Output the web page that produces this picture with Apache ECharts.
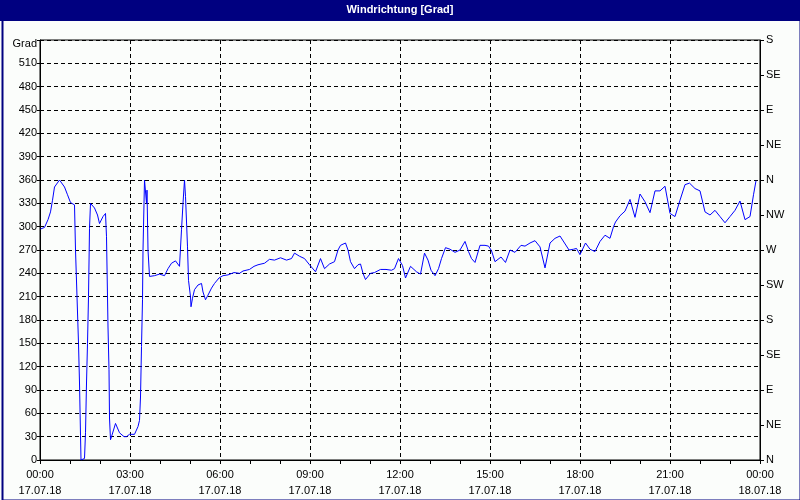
<!DOCTYPE html>
<html>
<head>
<meta charset="utf-8">
<script src="https://cdn.jsdelivr.net/npm/echarts@6/dist/echarts.min.js"></script>
<style>
html,body{margin:0;padding:0;background:#fbfdfb;}
#c{width:800px;height:500px;}
</style>
</head>
<body>
<div id="c"></div>
<script>
// Minutes since 17.07.18 00:00
const minutes = [1,9,16,21,25,29,39,49,55,61,69,71,74,77,79,81,82,89,91,93,95,97,99,101,109,115,119,126,131,133,136,138,139,141,144,151,159,168,173,179,189,196,199,201,203,205,206,209,211,213,214,216,219,223,229,239,249,256,263,271,279,283,286,289,291,295,297,301,302,305,309,316,323,326,331,336,343,349,358,366,376,388,399,406,419,428,436,449,459,469,481,493,503,509,519,529,539,551,561,569,579,589,596,601,611,616,621,629,636,641,646,651,661,669,681,692,703,709,717,721,725,731,741,753,761,769,776,782,790,797,803,811,820,830,840,850,857,863,870,880,890,897,903,910,922,931,940,950,962,970,980,990,1000,1010,1020,1030,1040,1049,1058,1067,1073,1080,1091,1100,1110,1120,1130,1140,1147,1151,1160,1170,1180,1190,1200,1210,1220,1230,1240,1250,1260,1270,1280,1290,1299,1310,1320,1330,1340,1350,1360,1370,1380,1390,1400,1410,1420,1427,1432];
// Wind direction in degrees
const degrees = [297,299,309,319,334,351,360,351,341,331,328,270,210,150,99,32,0,2,35,99,150,210,298,330,324,315,304,313,317,287,171,116,54,26,32,47,35,30,30,33,33,43,51,81,146,206,270,360,360,330,347,270,236,234,237,239,237,246,253,256,249,296,330,360,339,274,231,210,197,208,219,225,227,216,206,212,221,227,234,237,238,241,240,243,245,249,251,253,258,257,260,257,259,266,262,259,251,242,259,246,252,255,270,276,279,270,255,246,251,252,240,232,240,241,245,245,244,246,259,261,250,234,249,242,239,266,257,244,237,246,259,273,271,267,270,281,268,259,254,276,276,275,269,255,261,254,270,267,276,275,279,282,274,247,279,285,288,279,270,271,272,264,279,271,268,281,289,285,300,306,314,320,335,312,342,332,318,346,346,352,317,313,334,354,356,349,346,319,315,321,313,305,313,321,333,309,313,341,359];
const leftTicks = [0,30,60,90,120,150,180,210,240,270,300,330,360,390,420,450,480,510];
const compass = ['N','NE','E','SE','S','SW','W','NW','N','NE','E','SE','S'];
const dates = ['17.07.18','18.07.18'];
const titleText = 'Windrichtung [Grad]';

const seriesData = minutes.map((m, i) => [m, degrees[i]]);
const FONT = '"Liberation Sans", Arial, sans-serif';

function pad(n){return (n<10?'0':'')+n;}

const chart = echarts.init(document.getElementById('c'), null, {renderer:'canvas'});
chart.setOption({
  animation: false,
  backgroundColor: '#fbfdfb',
  textStyle: {fontFamily: FONT},
  graphic: [
    {type:'rect', left:0, top:0, shape:{width:800, height:21}, style:{fill:'#000080'}, z:10},
    {type:'text', left:'center', top:4, style:{text:titleText, fill:'#ffffff', font:'bold 11px ' + FONT}, z:11},
    {type:'rect', left:0, top:0, shape:{x:1, y:1, width:798, height:498}, style:{fill:'none', stroke:'#000080', lineWidth:2}, z:10}
  ],
  grid: {left:40, right:40, top:40, bottom:40, show:true, borderColor:'#000', borderWidth:1, backgroundColor:'transparent'},
  xAxis: {
    type:'value', min:0, max:1440, interval:180,
    axisLine:{show:true, lineStyle:{color:'#000', width:1}},
    axisTick:{show:true, length:4, lineStyle:{color:'#000'}},
    minorTick:{show:true, splitNumber:3, length:4, lineStyle:{color:'#000'}},
    splitLine:{show:true, lineStyle:{color:'#000', type:[4,3], width:1}},
    axisLabel:{
      margin:7, color:'#000', fontSize:11, fontFamily:FONT, lineHeight:16,
      formatter: function(v){
        const h = Math.floor(v/60) % 24, mm = v % 60;
        const d = v >= 1440 ? dates[1] : dates[0];
        return pad(h) + ':' + pad(mm) + '\n' + d;
      }
    }
  },
  yAxis: [
    {
      type:'value', min:0, max:540, interval:30, position:'left',
      axisLine:{show:true, lineStyle:{color:'#000'}},
      axisTick:{show:true, length:3, lineStyle:{color:'#000'}},
      splitLine:{show:true, lineStyle:{color:'#000', type:[4,3], width:1}},
      axisLabel:{
        margin:3, color:'#000', fontSize:11, fontFamily:FONT,
        rich:{g:{fontSize:11, fontFamily:FONT, color:'#000', padding:[8,0,0,0]}},
        formatter: function(v){ return v === 540 ? '{g|Grad}' : (leftTicks.indexOf(v) >= 0 ? String(v) : ''); }
      }
    },
    {
      type:'value', min:0, max:540, interval:45, position:'right',
      axisLine:{show:true, lineStyle:{color:'#000'}},
      axisTick:{show:true, length:4, lineStyle:{color:'#000'}},
      splitLine:{show:false},
      axisLabel:{
        margin:6, color:'#000', fontSize:11, fontFamily:FONT,
        formatter: function(v){ return compass[Math.round(v/45)]; }
      }
    }
  ],
  series: [{
    type:'line', yAxisIndex:0, data: seriesData, showSymbol:false, symbol:'none',
    lineStyle:{color:'#0000ff', width:1}, itemStyle:{color:'#0000ff'}
  }]
});
</script>
</body>
</html>
